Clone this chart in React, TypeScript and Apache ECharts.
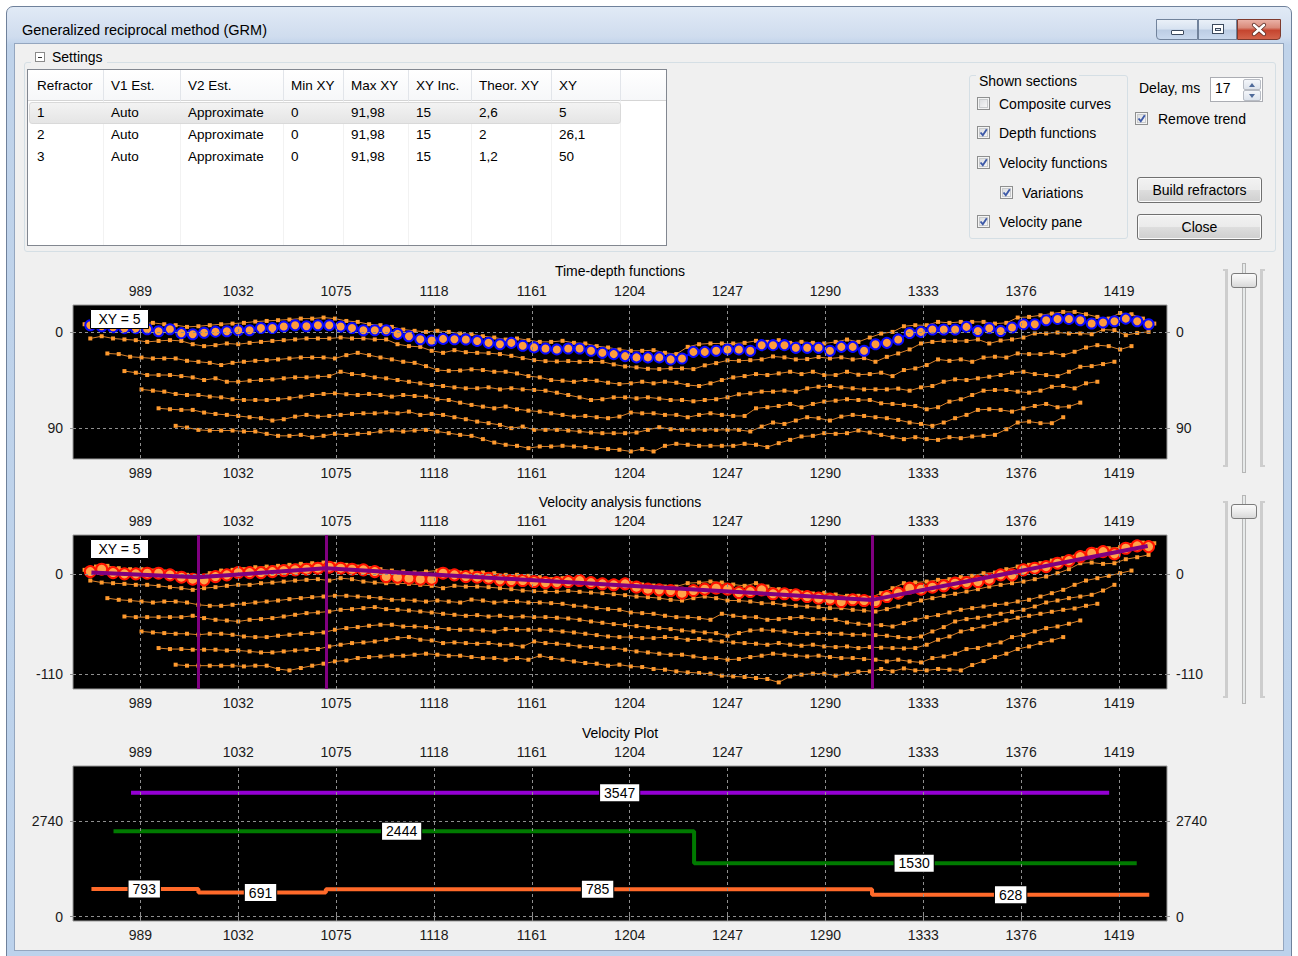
import React, { useEffect, useRef } from 'react';
import * as echarts from 'echarts';

// ---------------- DATA ----------------
const X_TICKS = [989, 1032, 1075, 1118, 1161, 1204, 1247, 1290, 1333, 1376, 1419];
const X_MIN = 959.4;
const X_MAX = 1440.1;
const STEP = 5;

// Time-depth functions (ms)
const TD_Y_TICKS = [0, 90];
const TD_Y_MIN = -25.6;
const TD_Y_MAX = 119.3;
const TD_MAIN_START = 967;
const TD_MAIN = [-6.6,-5.6,-4.7,-3.8,-3.8,-2.8,-0.9,-2.8,0.9,1.9,
  0.5,-0.5,-0.9,-1.9,-1.9,-4.0,-4.0,-5.3,-6.6,-5.6,
  -6.6,-6.6,-5.3,-4.0,-1.9,-1.9,-1.9,1.6,3.8,6.6,
  7.8,6.3,6.6,6.8,8.2,10.0,11.3,10.0,12.8,14.3,
  15.3,16.2,15.3,15.3,17.5,19.4,20.6,22.5,23.7,23.7,
  23.7,25.6,24.7,18.5,18.5,17.5,16.2,16.2,17.5,12.2,
  12.2,12.2,14.7,14.7,14.7,17.5,13.8,13.8,17.5,11.3,
  10.0,6.8,0.7,-0.3,-2.5,-2.5,-2.5,-5.0,-1.2,-3.8,
  -1.2,-4.4,-7.5,-7.5,-11.3,-12.5,-12.5,-11.3,-8.2,-9.1,
  -10.3,-12.8,-10.3,-7.5];
const TD_A_START = 964.5;
const TD_A = [-7.5,-7.5,-7.5,-7.5,-8.1,-8.1,-8.8,-7.5,-6.6,-5.0,
  -5.6,-6.6,-7.5,-8.1,-8.8,-10.0,-10.6,-11.3,-11.9,-12.8,
  -12.8,-13.8,-12.8,-10.6,-9.7,-7.5,-6.6,-5.0,-2.5,-1.3,
  -0.3,-1.3,-0.3,1.3,
  1.9,3.8,5.0,6.9,5.9,7.5,9.1,9.1,8.1,10.0,
  10.6,13.1,14.4,16.3,17.5,17.5,16.9,19.4,20.6,13.8,
  11.3,10.6,10.6,10.6,10.0,8.1,9.1,7.5,10.0,9.1,
  10.0,10.6,9.1,6.9,9.1,
  5.0,1.3,-0.3,-5.6,-6.6,-6.6,-9.7,-8.8,-9.7,-9.7,
  -9.7,-8.1,-8.8,-13.8,-14.4,-15.9,-17.5,-19.1,-19.1,-16.9,
  -14.4,-12.8,-18.1,-16.9,-12.8,-8.1];
const TD_B_START = 967;
const TD_B = [5.9,3.8,5.9,6.8,7.5,9.1,8.2,7.5,8.2,11.3,
  13.1,12.2,10.6,11.3,10.0,9.1,8.2,7.5,6.8,5.9,
  5.9,5.9,5.0,5.9,5.9,6.8,6.8,11.3,13.1,13.8,
  17.5,19.4,16.9,18.8,19.4,19.7,20.6,22.2,24.4,26.3,
  27.2,27.5,27.2,27.8,27.5,27.8,30.3,32.2,33.1,34.4,
  34.7,34.1,34.1,34.7,31.2,29.1,26.5,26.9,26.3,25.6,
  22.8,23.7,25.6,25.3,23.4,24.7,23.7,25.6,24.4,27.8,
  23.2,20.0,16.2,10.6,9.1,8.2,8.2,8.2,6.8,10.6,
  7.8,6.8,5.0,1.2,1.2,0.3,1.2,1.2,1.9,-2.5,
  -1.9,2.8,0.7,-0.3];
const TD_C_START = 974.5;
const TD_C = [20.0,20.6,23.1,23.8,24.7,24.7,24.7,26.9,27.8,28.8,
  30.9,28.8,27.8,26.9,26.3,25.6,24.7,23.8,23.8,23.8,
  24.7,21.6,19.4,21.6,23.8,25.6,27.8,28.8,31.9,35.6,
  36.3,36.0,
  35.0,35.6,37.2,37.2,38.8,41.3,42.5,45.0,45.6,46.6,
  45.0,45.6,47.5,48.8,48.1,46.6,48.1,46.6,47.5,49.7,
  50.6,48.1,45.0,42.5,41.3,39.4,40.3,38.8,37.2,39.4,
  37.2,40.3,40.3,37.2,
  40.0,39.4,38.1,41.3,35.6,34.1,30.9,25.6,26.9,25.6,
  27.8,23.8,23.1,23.8,20.0,20.6,20.6,19.4,21.6,18.4,
  14.4,12.2,13.1,16.3,13.1];
const TD_D_START = 982;
const TD_D = [36.6,38.1,40.3,40.3,40.3,41.3,42.5,45.0,43.4,46.6,
  46.6,45.6,45.0,44.4,43.4,42.5,42.5,41.9,41.3,37.2,
  39.4,40.3,42.5,43.4,45.0,46.6,48.1,49.7,50.6,51.9,
  52.8,
  52.8,51.9,53.8,52.8,53.8,54.4,55.0,56.9,59.1,61.3,
  63.8,63.1,61.3,61.3,62.2,61.3,62.5,63.8,63.8,65.0,
  63.8,63.1,61.3,58.4,57.5,55.9,55.9,55.0,55.9,52.8,
  51.3,50.6,51.9,52.8,
  53.8,53.8,53.8,53.1,55.0,51.9,50.6,46.6,44.4,45.0,
  43.4,41.9,40.3,38.1,37.2,39.4,40.3,41.3,37.2,32.5,
  31.9,30.0,27.8];
const TD_E_START = 989.5;
const TD_E = [53.8,55.0,55.9,58.1,59.1,59.1,60.6,61.3,63.1,63.8,
  63.8,63.8,63.1,62.2,60.6,59.1,58.1,57.5,58.4,59.1,
  58.1,59.1,60.6,59.1,60.0,60.6,63.1,63.8,66.3,
  68.4,70.0,71.6,70.0,72.5,73.8,74.7,76.3,77.8,79.4,
  78.8,80.0,80.9,79.4,75.6,76.3,76.3,77.8,77.8,80.0,
  77.8,76.3,77.8,78.8,78.8,71.6,70.6,69.4,67.5,70.6,
  67.5,65.3,64.4,63.1,63.8,
  63.8,66.9,67.5,68.4,69.4,72.5,70.6,65.3,63.1,59.1,
  55.0,54.4,54.4,55.9,56.9,55.0,51.3,50.6,52.8,48.1,
  46.6];
const TD_F_START = 997;
const TD_F = [71.6,72.5,73.1,73.1,75.6,76.9,77.8,78.8,80.0,80.9,
  83.1,81.9,79.4,77.8,79.4,78.8,77.8,76.9,76.3,76.3,
  75.6,76.3,74.7,77.8,76.9,77.8,80.0,81.9,
  84.1,85.6,87.2,90.3,88.8,91.9,91.9,91.9,92.5,93.4,
  94.4,95.0,95.0,95.0,94.4,91.9,89.4,91.3,91.9,91.9,
  91.9,91.9,91.9,91.9,93.4,88.8,85.0,86.3,83.1,80.0,
  80.9,83.1,79.4,77.8,
  78.8,80.0,80.9,82.5,85.0,86.3,88.1,85.0,80.9,77.8,
  73.1,72.5,73.1,74.7,71.6,69.4,67.5,70.6,70.0,66.3];
const TD_G_START = 1004.5;
const TD_G = [88.1,89.7,91.9,92.5,92.5,92.5,93.4,93.4,95.6,97.5,
  97.5,96.6,98.8,97.5,95.6,96.6,95.6,95.0,93.4,92.5,
  93.4,92.5,91.9,93.4,95.0,96.6,97.5,
  100.6,103.8,105.9,106.9,109.1,107.5,107.5,106.9,107.5,108.1,
  109.1,110.0,110.6,112.2,110.0,112.2,106.9,105.0,105.9,106.9,
  106.9,106.9,106.9,105.0,105.9,108.1,104.4,101.3,98.1,97.5,
  95.0,95.6,95.0,
  92.5,94.4,96.6,98.8,100.6,98.8,100.6,101.3,98.8,99.7,
  98.1,97.5,96.6,91.3,85.0,84.1,85.6,85.6,80.0];

// Velocity analysis functions
const VA_Y_TICKS = [0, -110];
const VA_Y_MIN = -126.5;
const VA_Y_MAX = 43.2;
const VA_MAIN_START = 967;
const VA_MAIN = [2.9,5.5,1.8,0.4,0.4,1.1,1.1,-0.7,-3.3,-5.5,
  -6.2,-2.6,-0.7,1.8,1.8,1.8,2.9,4.0,4.8,5.5,
  6.6,7.7,6.6,5.5,4.8,2.9,-2.6,-3.3,-4.4,-5.5,
  -5.5,1.1,-0.7,
  -2.6,-3.3,-4.4,-6.2,-7.0,-7.0,-8.1,-9.2,-9.2,-8.1,
  -7.0,-9.2,-10.6,-11.7,-10.6,-14.3,-16.5,-17.2,-18.0,-20.9,
  -18.0,-16.5,-15.4,-16.5,-20.2,-19.1,-17.2,-21.6,-21.6,-22.7,
  -24.6,-26.4,-27.5,-30.1,
  -28.2,-29.0,-30.1,-24.6,-20.9,-15.4,-16.5,-14.3,-12.8,-9.9,
  -9.2,-8.1,-5.5,-0.7,-0.7,4.8,6.6,8.4,12.1,15.0,
  19.4,23.1,24.9,22.4,28.6,31.2,30.4];
const VA_A_START = 964.5;
const VA_A = [4.8,8.4,9.2,6.6,5.5,5.5,4.0,2.9,1.1,-0.7,
  -1.8,1.1,4.0,4.8,5.5,7.7,8.4,9.2,10.3,11.4,
  12.1,12.8,11.4,10.3,8.4,6.6,5.5,4.0,2.9,1.8,
  2.9,4.0,2.9,1.8,
  2.9,1.8,1.1,-0.7,-0.7,-1.8,-3.3,-5.5,-4.4,-5.5,
  -7.0,-8.1,-9.2,-9.2,-9.9,-11.4,-12.5,-13.6,-13.6,-9.9,
  -9.2,-8.1,-9.2,-11.4,-12.8,-9.9,-13.6,-16.5,-18.7,-20.2,
  -21.3,-20.5,-22.4,-23.8,-23.8,-26.0,
  -20.9,-15.4,-9.9,-9.2,-8.1,-6.2,-5.5,-3.3,-1.8,1.1,
  1.8,5.5,8.4,10.3,12.1,15.0,17.6,19.4,23.1,26.8,
  28.6,29.7,32.3,34.8,34.1];
const VA_B_START = 967;
const VA_B = [-7.0,-9.2,-9.9,-10.6,-11.7,-11.7,-12.8,-14.3,-15.4,-17.2,
  -15.4,-14.3,-12.8,-11.7,-11.7,-9.9,-9.2,-8.1,-7.0,-6.2,
  -5.5,-7.0,-4.4,-5.5,-8.1,-9.2,-9.9,-9.9,-10.6,-11.7,
  -12.8,-15.4,-12.8,-13.6,
  -13.6,-14.3,-15.4,-16.5,-18.0,-18.7,-19.1,-19.1,-18.3,-19.4,
  -20.2,-20.9,-22.0,-23.1,-24.6,-25.3,-26.4,-28.2,-29.0,-26.4,
  -24.6,-26.4,-29.0,-29.0,-30.1,-31.9,-31.9,-33.7,-34.8,-35.6,
  -36.3,-37.4,-37.4,-39.2,-40.0,-41.1,
  -38.5,-35.6,-32.6,-29.0,-26.4,-23.8,-21.6,-19.1,-16.5,-13.6,
  -11.7,-9.9,-8.1,-5.5,-2.6,1.1,5.5,12.1,12.8,11.4,
  12.1,16.5,18.7,21.3];
const VA_C_START = 974.5;
const VA_C = [-26.4,-28.2,-29.0,-30.1,-31.2,-30.1,-30.1,-31.2,-33.7,-34.8,
  -34.8,-33.7,-32.6,-31.2,-30.1,-29.0,-27.5,-26.4,-25.3,-24.6,
  -23.8,-23.8,-24.6,-25.3,-26.4,-28.2,-28.2,-29.0,-30.1,-29.0,
  -30.1,-31.2,
  -28.0,-29.0,-31.2,-30.1,-30.1,-31.2,-31.2,-31.9,-32.6,-34.8,
  -35.6,-37.4,-38.5,-39.2,-42.2,-42.9,-43.6,-45.8,-47.3,-47.3,
  -48.4,-50.2,-43.6,-45.8,-47.3,-47.3,-50.2,-49.5,-48.4,-47.3,
  -49.5,-49.5,-50.2,-53.2,
  -54.6,-55.7,-56.1,-57.6,-53.9,-50.2,-47.3,-45.1,-42.2,-39.2,
  -37.4,-35.6,-33.7,-32.6,-30.1,-28.2,-24.6,-20.9,-17.2,-11.7,
  -7.0,-4.4,-1.8,1.1,4.0];
const VA_D_START = 982;
const VA_D = [-46.6,-47.3,-47.3,-47.3,-47.3,-47.3,-45.8,-48.4,-50.2,-51.0,
  -52.1,-50.2,-49.5,-48.4,-46.6,-44.7,-42.9,-42.2,-41.1,-39.2,
  -38.5,-37.4,-36.3,-38.5,-39.2,-40.0,-41.1,-42.2,-43.6,-44.7,
  -45.8,
  -45.1,-46.6,-45.8,-47.3,-46.6,-47.3,-47.3,-48.0,-48.8,-50.2,
  -52.1,-53.5,-55.0,-56.1,-57.2,-58.3,-59.4,-60.5,-62.0,-63.1,
  -64.2,-64.9,-67.8,-64.9,-62.0,-61.2,-62.0,-63.1,-64.9,-65.6,
  -64.9,-65.6,-65.6,-66.7,
  -66.7,-67.1,-67.8,-69.3,-70.4,-68.6,-63.1,-58.3,-52.1,-49.5,
  -48.0,-45.8,-43.6,-41.4,-39.2,-35.6,-31.2,-29.0,-26.4,-24.6,
  -22.7,-18.0,-11.7];
const VA_E_START = 989.5;
const VA_E = [-63.1,-64.2,-64.9,-65.6,-65.6,-66.7,-65.6,-65.6,-66.7,-68.6,
  -69.3,-69.3,-67.8,-66.7,-65.6,-64.9,-64.2,-61.2,-59.4,-58.3,
  -56.8,-55.7,-55.7,-57.6,-57.6,-58.3,-59.4,-60.5,-61.2,
  -61.2,-62.0,-63.1,-60.5,-61.2,-61.2,-61.2,-62.0,-63.1,-64.2,
  -65.6,-67.1,-68.6,-69.3,-69.3,-70.4,-70.4,-69.3,-70.4,-72.2,
  -71.5,-73.0,-74.1,-75.2,-75.9,-76.6,-77.7,-75.9,-77.7,-78.8,
  -77.7,-79.6,-80.3,-79.6,-81.4,
  -80.3,-81.0,-81.4,-81.8,-81.4,-77.7,-72.2,-68.6,-63.1,-60.5,
  -57.6,-54.6,-51.0,-48.0,-45.8,-43.6,-41.4,-39.2,-37.8,-34.8,
  -32.6];
const VA_F_START = 997;
const VA_F = [-81.4,-82.5,-82.5,-83.2,-83.2,-83.2,-84.0,-84.0,-85.1,-86.2,
  -86.2,-85.1,-84.0,-83.2,-82.5,-79.6,-77.7,-75.9,-75.2,-74.1,
  -72.2,-70.4,-69.3,-72.2,-73.0,-75.9,-75.2,-75.9,
  -76.6,-75.9,-77.7,-77.7,-79.6,-74.1,-75.9,-76.6,-77.7,-79.6,
  -80.3,-81.4,-81.4,-83.2,-85.1,-86.2,-87.6,-88.7,-88.7,-90.6,
  -92.4,-92.4,-94.2,-93.5,-91.3,-89.8,-87.6,-88.7,-89.8,-90.6,
  -89.8,-91.3,-92.4,-92.4,-93.5,
  -94.2,-96.1,-94.2,-96.1,-97.2,-92.4,-90.6,-87.6,-82.5,-81.4,
  -77.7,-75.2,-69.3,-67.1,-63.1,-59.4,-57.6,-54.6,-51.0];
const VA_G_START = 1004.5;
const VA_G = [-99.7,-100.8,-100.8,-100.8,-100.8,-100.8,-101.6,-100.8,-100.8,-104.5,
  -106.0,-103.4,-100.8,-98.6,-96.1,-95.0,-92.4,-91.3,-90.6,-89.8,
  -89.8,-88.7,-87.6,-88.7,-89.8,-89.8,
  -91.3,-92.4,-92.4,-94.2,-92.4,-94.2,-89.8,-92.4,-94.2,-96.1,
  -97.9,-98.6,-100.8,-99.7,-101.6,-102.3,-104.5,-105.2,-107.1,-108.2,
  -108.9,-109.6,-111.8,-112.6,-113.3,-114.4,-115.5,-119.2,-112.6,-110.7,
  -109.6,-109.6,-111.8,-109.6,
  -107.4,-107.1,-104.5,-107.1,-103.8,-106.0,-106.0,-104.5,-105.2,-106.0,
  -100.1,-95.7,-91.3,-87.6,-82.5,-79.6,-75.9,-73.0,-69.3];
const VA_TREND_X = [967.5, 1014.5, 1070.5, 1310.5, 1431.6];
const VA_TREND_Y = [1.8, -3.3, 6.6, -28.3, 31.1];
const VA_BREAKS = [1014.5, 1070.5, 1310.5];

// Velocity plot (m/s)
const VP_Y_TICKS = [0, 2740];
const VP_Y_MIN = -123;
const VP_Y_MAX = 4315;
const VP_V1_BREAKS = [967.5, 1014.5, 1070.5, 1310.5, 1432.3];
const VP_V1 = [793, 691, 785, 628];
const VP_V2_BREAKS = [977.2, 1232.3, 1426.8];
const VP_V2 = [2444, 1530];
const VP_V3_BREAKS = [984.9, 1414.7];
const VP_V3 = [3547];
const VP_LABEL_X = [990.7, 1041.8, 1189.9, 1371.4, 1103.8, 1329, 1199.6];
const VP_LABEL_V = [793, 691, 785, 628, 2444, 1530, 3547];

// Settings table
const TABLE_COLS = ['Refractor', 'V1 Est.', 'V2 Est.', 'Min XY', 'Max XY', 'XY Inc.', 'Theor. XY', 'XY'];
const TABLE_ROWS = [
  ['1', 'Auto', 'Approximate', '0', '91,98', '15', '2,6', '5'],
  ['2', 'Auto', 'Approximate', '0', '91,98', '15', '2', '26,1'],
  ['3', 'Auto', 'Approximate', '0', '91,98', '15', '1,2', '50'],
];

// ---------------- CHART ----------------
const FONT = '"Liberation Sans", Arial, sans-serif';
const GRID_COLOR = '#8f8f8f';
const THIN_LINE = '#d9822b';
const THIN_MARK = '#ff9a2e';

function pts(start: number, vals: number[]) {
  return vals.map((v, i) => [start + STEP * i, v]);
}
function stepPts(bx: number[], vals: number[]) {
  const out: number[][] = [];
  vals.forEach((v, i) => { out.push([bx[i], v], [bx[i + 1], v]); });
  return out;
}

function buildOption() {
  const grids = [
    { left: 73, top: 305, width: 1094, height: 154 },
    { left: 73, top: 535, width: 1094, height: 154 },
    { left: 73, top: 766, width: 1094, height: 155 },
  ].map((g) => ({ ...g, show: true, backgroundColor: '#000', borderColor: '#9a9a9a', borderWidth: 1 }));

  const labelStyle = { color: '#1a1a1a', fontSize: 14, fontFamily: FONT, formatter: (v: number) => String(v) };
  const tickStyle = { color: GRID_COLOR, type: [3, 2] as any, width: 1 };
  const xAxis: any[] = [];
  const yAxis: any[] = [];
  const yDefs = [
    { min: TD_Y_MIN, max: TD_Y_MAX, ticks: TD_Y_TICKS, inverse: true },
    { min: VA_Y_MIN, max: VA_Y_MAX, ticks: VA_Y_TICKS, inverse: false },
    { min: VP_Y_MIN, max: VP_Y_MAX, ticks: VP_Y_TICKS, inverse: false },
  ];
  for (let g = 0; g < 3; g++) {
    ['bottom', 'top'].forEach((pos) => {
      xAxis.push({
        type: 'value', gridIndex: g, position: pos, min: X_MIN, max: X_MAX,
        axisLine: { show: false }, splitLine: { show: false },
        axisTick: { show: true, customValues: X_TICKS, length: 5, lineStyle: tickStyle },
        axisLabel: { show: true, customValues: X_TICKS, margin: 7, ...labelStyle },
      });
    });
    const d = yDefs[g];
    ['left', 'right'].forEach((pos) => {
      yAxis.push({
        type: 'value', gridIndex: g, position: pos, min: d.min, max: d.max, inverse: d.inverse,
        axisLine: { show: false }, splitLine: { show: false },
        axisTick: { show: true, customValues: d.ticks, length: 5, lineStyle: tickStyle },
        axisLabel: { show: true, customValues: d.ticks, margin: pos === 'left' ? 10 : 9, ...labelStyle },
      });
    });
  }

  const series: any[] = [];
  // dashed grid lines
  for (let g = 0; g < 3; g++) {
    series.push({
      type: 'line', xAxisIndex: 2 * g, yAxisIndex: 2 * g, data: [], z: 1, silent: true,
      markLine: {
        silent: true, symbol: ['none', 'none'], label: { show: false },
        lineStyle: { color: GRID_COLOR, type: [3, 3], width: 1 },
        data: [...X_TICKS.map((x) => ({ xAxis: x })), ...yDefs[g].ticks.map((y) => ({ yAxis: y }))],
      },
    });
  }

  const thin = (g: number, start: number, vals: number[]) => ({
    type: 'line', xAxisIndex: 2 * g, yAxisIndex: 2 * g, data: pts(start, vals),
    symbol: 'rect', symbolSize: 4, showAllSymbol: true, silent: true, z: 2,
    lineStyle: { color: THIN_LINE, width: 1 }, itemStyle: { color: THIN_MARK },
  });

  const tdThin: [number, number[]][] = [
    [TD_A_START, TD_A], [TD_B_START, TD_B], [TD_C_START, TD_C], [TD_D_START, TD_D],
    [TD_E_START, TD_E], [TD_F_START, TD_F], [TD_G_START, TD_G],
  ];
  tdThin.forEach(([s, v]) => series.push(thin(0, s, v)));
  series.push({
    type: 'line', xAxisIndex: 0, yAxisIndex: 0, data: pts(TD_MAIN_START, TD_MAIN),
    symbol: 'circle', symbolSize: 10, showAllSymbol: true, silent: true, z: 4,
    lineStyle: { color: '#0000ff', width: 2 },
    itemStyle: { color: '#ff9c3c', borderColor: '#0a0aff', borderWidth: 2 },
  });

  const vaThin: [number, number[]][] = [
    [VA_A_START, VA_A], [VA_B_START, VA_B], [VA_C_START, VA_C], [VA_D_START, VA_D],
    [VA_E_START, VA_E], [VA_F_START, VA_F], [VA_G_START, VA_G],
  ];
  vaThin.forEach(([s, v]) => series.push(thin(1, s, v)));
  series.push({
    type: 'line', xAxisIndex: 2, yAxisIndex: 2, data: pts(VA_MAIN_START, VA_MAIN),
    symbol: 'circle', symbolSize: 11, showAllSymbol: true, silent: true, z: 4,
    lineStyle: { color: '#ff0000', width: 2 },
    itemStyle: { color: '#ffa44a', borderColor: '#ff1400', borderWidth: 2 },
  });
  series.push({
    type: 'line', xAxisIndex: 2, yAxisIndex: 2, data: VA_TREND_X.map((x, i) => [x, VA_TREND_Y[i]]),
    symbol: 'none', silent: true, z: 5, lineStyle: { color: '#800080', width: 4 },
    markLine: {
      silent: true, symbol: ['none', 'none'], label: { show: false },
      lineStyle: { color: '#800080', type: 'solid', width: 3 },
      data: VA_BREAKS.map((x) => ({ xAxis: x })),
    },
  });

  const vline = (bx: number[], vals: number[], color: string, width: number) => ({
    type: 'line', xAxisIndex: 4, yAxisIndex: 4, data: stepPts(bx, vals), symbol: 'none',
    silent: true, z: 3, lineStyle: { color, width },
  });
  series.push(vline(VP_V3_BREAKS, VP_V3, '#9400d3', 4));
  series.push(vline(VP_V2_BREAKS, VP_V2, '#007a00', 4));
  series.push(vline(VP_V1_BREAKS, VP_V1, '#ff6a2a', 4));
  series.push({
    type: 'line', xAxisIndex: 4, yAxisIndex: 4, symbol: 'rect', symbolSize: 1, showAllSymbol: true,
    silent: true, z: 10, lineStyle: { width: 0, opacity: 0 },
    itemStyle: { color: 'rgba(0,0,0,0)', opacity: 1 },
    data: VP_LABEL_X.map((x, i) => ({ value: [x, VP_LABEL_V[i]] })),
    label: {
      show: true, position: 'inside', formatter: (p: any) => String(p.value[1]),
      backgroundColor: '#ffffff', borderColor: '#000', borderWidth: 1, padding: [2, 4, 1, 4],
      color: '#000', fontSize: 14, fontFamily: FONT, opacity: 1,
    },
  });

  const txt = (x: number, y: number, text: string, z = 101) => ({
    type: 'text', x, y, z,
    style: { text, fill: '#000', font: `14px ${FONT}`, textAlign: 'center', textVerticalAlign: 'middle', align: 'center', verticalAlign: 'middle' },
  });
  const graphic: any[] = [
    txt(620, 271, 'Time-depth functions'),
    txt(620, 502, 'Velocity analysis functions'),
    txt(620, 733, 'Velocity Plot'),
    { type: 'rect', z: 100, shape: { x: 90.5, y: 309.5, width: 58, height: 19 }, style: { fill: '#fff', stroke: '#000', lineWidth: 1 } },
    txt(119.5, 319, 'XY = 5'),
    { type: 'rect', z: 100, shape: { x: 90.5, y: 539.5, width: 58, height: 19 }, style: { fill: '#fff', stroke: '#000', lineWidth: 1 } },
    txt(119.5, 549, 'XY = 5'),
  ];

  return { animation: false, grid: grids, xAxis, yAxis, series, graphic };
}

// ---------------- WINDOW CHROME ----------------
const UI_FONT = '"Liberation Sans", Arial, sans-serif';
const abs = (s: React.CSSProperties): React.CSSProperties => ({ position: 'absolute', boxSizing: 'border-box', ...s });

function Label({ x, cy, text, size = 14 }: { x: number; cy: number; text: string; size?: number }) {
  return (
    <div style={abs({ left: x, top: cy - 9, height: 18, lineHeight: '18px', fontSize: size, whiteSpace: 'nowrap', color: '#000', fontFamily: UI_FONT })}>{text}</div>
  );
}

function CheckBox({ x, cy, checked }: { x: number; cy: number; checked: boolean }) {
  return (
    <div style={abs({ left: x, top: cy - 7, width: 13, height: 13, border: '1px solid #8e8f8f', background: '#f4f4f4' })}>
      <div style={abs({ left: 1, top: 1, width: 9, height: 9, border: '1px solid #c9cbcd', background: 'linear-gradient(135deg,#dcdee0,#f6f6f6)' })} />
      {checked && (
        <svg width="13" height="13" style={{ position: 'absolute', left: -1, top: -1 }}>
          <polyline points="3.5,6.5 5.8,9.2 9.8,3.2" fill="none" stroke="#3e5aa8" strokeWidth="1.9" />
        </svg>
      )}
    </div>
  );
}

function Button({ y, text }: { y: number; text: string }) {
  return (
    <div style={abs({ left: 1137, top: y, width: 125, height: 26, border: '1px solid #707070', borderRadius: 3,
      background: 'linear-gradient(#f2f2f2 0%, #ebebeb 48%, #dddddd 52%, #cfcfcf 100%)', boxShadow: 'inset 0 0 0 1px #fbfbfb',
      textAlign: 'center', lineHeight: '24px', fontSize: 14, fontFamily: UI_FONT, color: '#000' })}>{text}</div>
  );
}

function Slider({ top, bottom, thumbTop }: { top: number; bottom: number; thumbTop: number }) {
  const h = bottom - top;
  return (
    <>
      <div style={abs({ left: 1225, top: top + 6, width: 3, height: h - 12, background: '#cdcdcd' })} />
      <div style={abs({ left: 1223, top: top + 6, width: 5, height: 2, background: '#cdcdcd' })} />
      <div style={abs({ left: 1223, top: bottom - 8, width: 5, height: 2, background: '#cdcdcd' })} />
      <div style={abs({ left: 1260, top: top + 6, width: 3, height: h - 12, background: '#cdcdcd' })} />
      <div style={abs({ left: 1260, top: top + 6, width: 5, height: 2, background: '#cdcdcd' })} />
      <div style={abs({ left: 1260, top: bottom - 8, width: 5, height: 2, background: '#cdcdcd' })} />
      <div style={abs({ left: 1242, top, width: 4, height: h, background: '#e7eaea', border: '1px solid #b6b6b6' })} />
      <div style={abs({ left: 1231, top: thumbTop, width: 26, height: 15, borderRadius: 3, border: '1px solid #7b7b7b',
        background: 'linear-gradient(#fafafa 0%, #ececec 50%, #d8d8d8 100%)' })} />
    </>
  );
}

function Chrome() {
  const colX = [29, 103, 180, 283, 343, 408, 471, 551, 620];
  return (
    <div style={abs({ left: 0, top: 0, width: 1298, height: 956, fontFamily: UI_FONT })}>
      {/* window frame */}
      <div style={abs({ left: 6, top: 6, width: 1286, height: 960, border: '1px solid #6f819b', borderRadius: '7px 7px 0 0',
        background: 'linear-gradient(#e1eaf6 0px, #cfdcee 30px, #c0d3ea 38px, #bcd2ec 100%)' })} />
      <Label x={22} cy={30} text="Generalized reciprocal method (GRM)" size={14.5} />
      {/* title buttons */}
      <div style={abs({ left: 1156, top: 19, width: 42, height: 21, border: '1px solid #71839c', borderRadius: '0 0 0 4px',
        background: 'linear-gradient(#eaf0f8 0%, #d8e3f1 45%, #bccde4 55%, #c9d9ee 100%)' })}>
        <div style={abs({ left: 14, top: 10, width: 13, height: 5, border: '1px solid #3c4a5e', background: '#fff', borderRadius: 1 })} />
      </div>
      <div style={abs({ left: 1198, top: 19, width: 39, height: 21, border: '1px solid #71839c',
        background: 'linear-gradient(#eaf0f8 0%, #d8e3f1 45%, #bccde4 55%, #c9d9ee 100%)' })}>
        <div style={abs({ left: 13, top: 4, width: 12, height: 10, border: '1px solid #3c4a5e', background: '#fff' })}>
          <div style={abs({ left: 2, top: 3, width: 6, height: 3, border: '1px solid #3c4a5e', background: '#dfe7f2' })} />
        </div>
      </div>
      <div style={abs({ left: 1237, top: 19, width: 44, height: 21, border: '1px solid #7e3a2e', borderRadius: '0 0 4px 0',
        background: 'linear-gradient(#eab1a6 0%, #d98a7a 40%, #c5452f 55%, #d3634b 100%)' })}>
        <svg width="44" height="21" style={{ position: 'absolute', left: -1, top: -1 }}>
          <line x1="17" y1="6" x2="27" y2="15" stroke="#5a2a22" strokeWidth="4.2" strokeLinecap="round" />
          <line x1="27" y1="6" x2="17" y2="15" stroke="#5a2a22" strokeWidth="4.2" strokeLinecap="round" />
          <line x1="17" y1="6" x2="27" y2="15" stroke="#ffffff" strokeWidth="2.6" strokeLinecap="round" />
          <line x1="27" y1="6" x2="17" y2="15" stroke="#ffffff" strokeWidth="2.6" strokeLinecap="round" />
        </svg>
      </div>
      {/* client area */}
      <div style={abs({ left: 14, top: 43, width: 1270, height: 908, background: '#f0f0f0', border: '1px solid #94a6bf' })} />

      {/* settings group */}
      <div style={abs({ left: 24, top: 62, width: 1252, height: 190, border: '1px solid #d5dfe5', borderRadius: 3 })} />
      <div style={abs({ left: 31, top: 48, width: 76, height: 18, background: '#f0f0f0' })} />
      <div style={abs({ left: 35, top: 52, width: 10, height: 10, border: '1px solid #8a8a8a', background: '#fff' })}>
        <div style={abs({ left: 2, top: 3.5, width: 4, height: 1, background: '#333' })} />
      </div>
      <Label x={52} cy={57} text="Settings" />

      {/* list view */}
      <div style={abs({ left: 27, top: 69, width: 640, height: 177, border: '1px solid #828790', background: '#fff' })} />
      <div style={abs({ left: 28, top: 70, width: 638, height: 31, background: 'linear-gradient(#ffffff, #f6f7f9)', borderBottom: '1px solid #d5d5d5' })} />
      {colX.slice(1).map((x) => (
        <React.Fragment key={x}>
          <div style={abs({ left: x, top: 70, width: 1, height: 31, background: '#e2e5ea' })} />
          <div style={abs({ left: x, top: 101, width: 1, height: 144, background: '#f2f2f2' })} />
        </React.Fragment>
      ))}
      {TABLE_COLS.map((c, i) => <Label key={c} x={colX[i] + 8} cy={86} text={c} size={13.5} />)}
      <div style={abs({ left: 29, top: 102, width: 592, height: 22, borderRadius: 3, border: '1px solid #d9d9d9',
        background: 'linear-gradient(#f3f3f3, #e5e5e5)' })} />
      {TABLE_ROWS.map((r, ri) => r.map((cell, ci) => (
        <Label key={`${ri}-${ci}`} x={colX[ci] + 8} cy={113 + ri * 22} text={cell} size={13.5} />
      )))}

      {/* shown sections */}
      <div style={abs({ left: 969, top: 75, width: 159, height: 164, border: '1px solid #d5dfe5', borderRadius: 3 })} />
      <div style={abs({ left: 976, top: 72, width: 103, height: 16, background: '#f0f0f0' })} />
      <Label x={979} cy={81} text="Shown sections" />
      <CheckBox x={977} cy={104} checked={false} />
      <Label x={999} cy={104} text="Composite curves" />
      <CheckBox x={977} cy={133} checked />
      <Label x={999} cy={133} text="Depth functions" />
      <CheckBox x={977} cy={163} checked />
      <Label x={999} cy={163} text="Velocity functions" />
      <CheckBox x={1000} cy={193} checked />
      <Label x={1022} cy={193} text="Variations" />
      <CheckBox x={977} cy={222} checked />
      <Label x={999} cy={222} text="Velocity pane" />

      {/* delay */}
      <Label x={1139} cy={88} text="Delay, ms" />
      <div style={abs({ left: 1210, top: 77, width: 53, height: 25, border: '1px solid #abadb3', background: '#fff' })} />
      <Label x={1215} cy={88} text="17" />
      <div style={abs({ left: 1243, top: 79, width: 18, height: 11, border: '1px solid #b8bcc4', borderRadius: 2, background: 'linear-gradient(#f4f6fa,#dde3ec)' })}>
        <div style={abs({ left: 5, top: 3, width: 0, height: 0, borderLeft: '3.5px solid transparent', borderRight: '3.5px solid transparent', borderBottom: '4px solid #4f6a9a' })} />
      </div>
      <div style={abs({ left: 1243, top: 90, width: 18, height: 11, border: '1px solid #b8bcc4', borderRadius: 2, background: 'linear-gradient(#f4f6fa,#dde3ec)' })}>
        <div style={abs({ left: 5, top: 3, width: 0, height: 0, borderLeft: '3.5px solid transparent', borderRight: '3.5px solid transparent', borderTop: '4px solid #4f6a9a' })} />
      </div>
      <CheckBox x={1135} cy={119} checked />
      <Label x={1158} cy={119} text="Remove trend" />

      <Button y={177} text="Build refractors" />
      <Button y={214} text="Close" />

      {/* sliders */}
      <Slider top={263} bottom={473} thumbTop={273} />
      <Slider top={495} bottom={704} thumbTop={504} />
    </div>
  );
}

export default function App() {
  const ref = useRef<HTMLDivElement>(null);
  useEffect(() => {
    if (!ref.current) return;
    const chart = echarts.init(ref.current, null, { renderer: 'svg' });
    chart.setOption(buildOption() as any);
    return () => chart.dispose();
  }, []);
  return (
    <div style={{ position: 'fixed', left: 0, top: 0, width: 1298, height: 956, background: '#ffffff', overflow: 'hidden' }}>
      <Chrome />
      <div ref={ref} style={{ position: 'absolute', left: 0, top: 0, width: 1298, height: 956 }} />
    </div>
  );
}
